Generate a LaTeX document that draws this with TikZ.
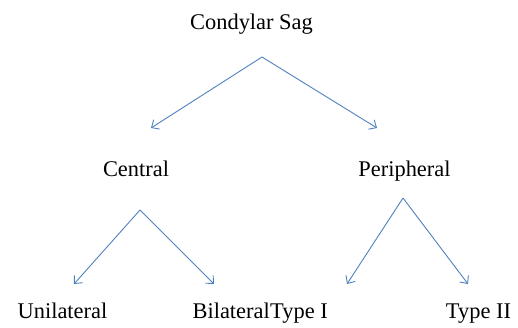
\documentclass[tikz,border=0pt]{standalone}
\usepackage{fontspec}
\setmainfont{Liberation Serif}
\usetikzlibrary{arrows.meta}
\definecolor{arrowblue}{RGB}{79,129,189}
\begin{document}
\begin{tikzpicture}[x=1bp,y=-1bp,
  lbl/.style={font=\fontsize{22.5}{26}\selectfont, inner sep=0pt, anchor=base},
  conn/.style={draw=arrowblue, line width=0.9bp, -{Straight Barb[length=6bp,width=11bp]}}]
\useasboundingbox (0,0) rectangle (518,327);
\node[lbl] (top) at (251.5,29) {Condylar Sag};
\node[lbl] (central) at (136,176) {Central};
\node[lbl] (peripheral) at (404.5,176) {Peripheral};
\node[lbl] (uni) at (62.5,318) {Unilateral};
\node[lbl, anchor=base east] (bi) at (270,318) {Bilateral};
\node[lbl, anchor=base west] (t1) at (270,318) {Type I};
\node[lbl] (t2) at (478.5,318) {Type II};
\coordinate (a0) at (262,57);
\coordinate (a1) at (140,210);
\coordinate (a2) at (403,198);
\coordinate (e-central) at (151,128);
\coordinate (e-peripheral) at (377,128);
\coordinate (e-uni) at (74,284);
\coordinate (e-bi) at (214,284);
\coordinate (e-t1) at (347,284);
\coordinate (e-t2) at (468,284);
\draw[conn] (a0) -- (e-central);
\draw[conn] (a0) -- (e-peripheral);
\draw[conn] (a1) -- (e-uni);
\draw[conn] (a1) -- (e-bi);
\draw[conn] (a2) -- (e-t1);
\draw[conn] (a2) -- (e-t2);
\end{tikzpicture}
\end{document}
